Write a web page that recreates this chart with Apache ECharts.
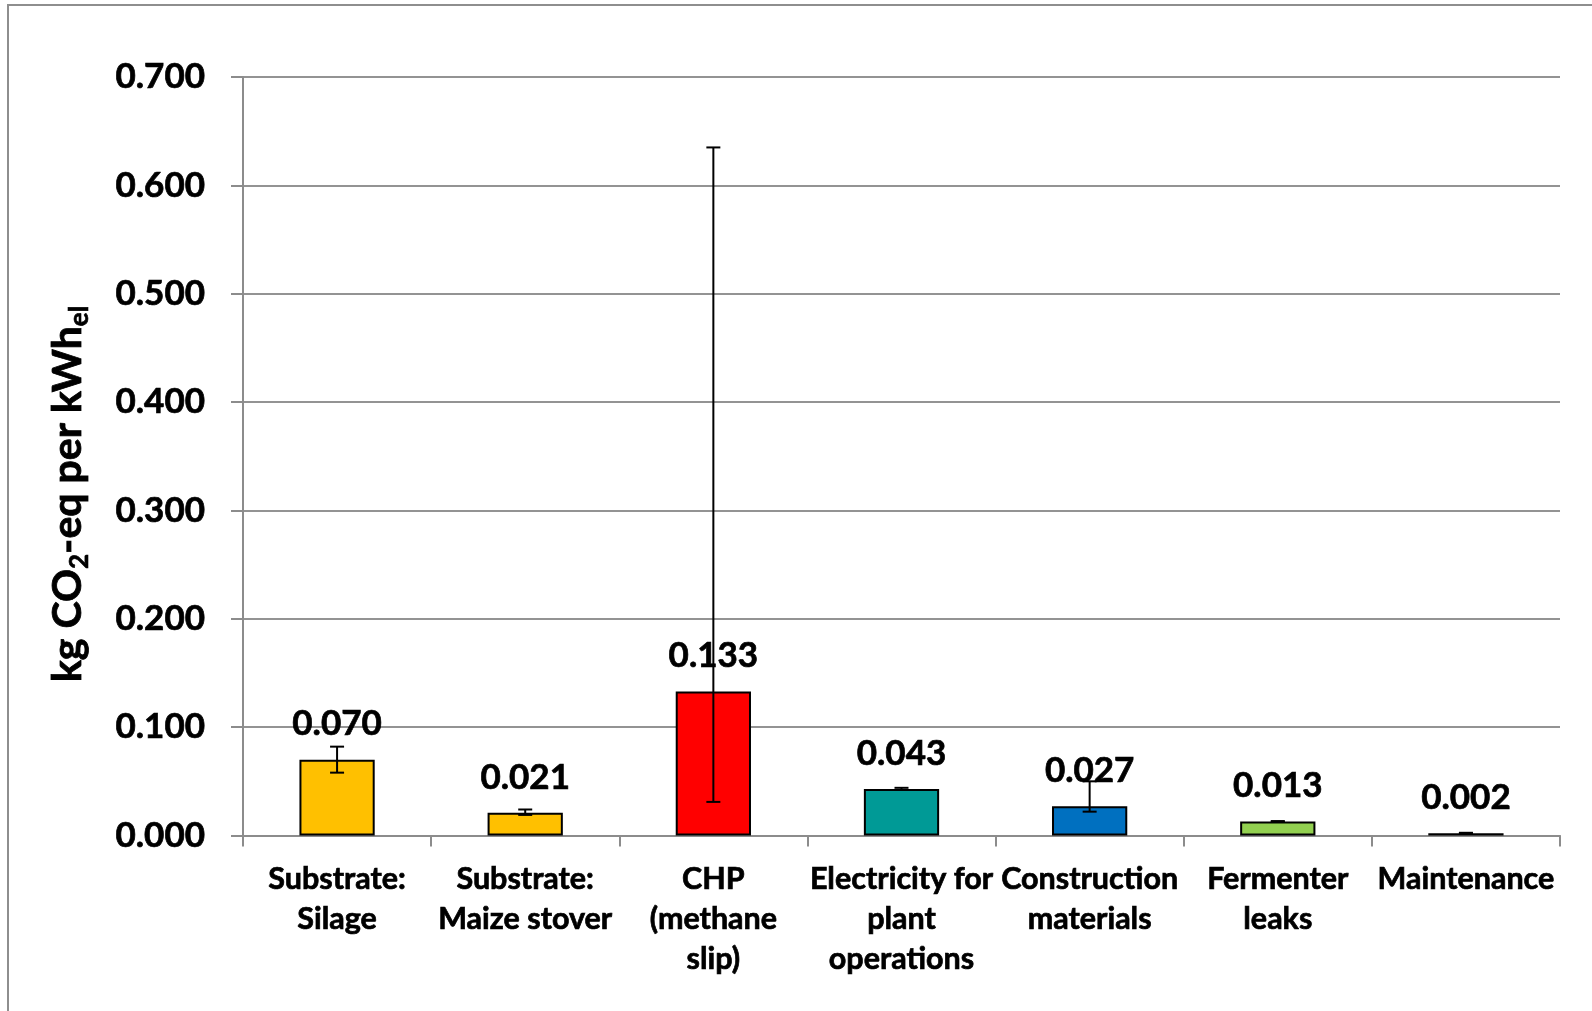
<!DOCTYPE html>
<html>
<head>
<meta charset="utf-8">
<script src="https://cdn.jsdelivr.net/npm/echarts@6/dist/echarts.min.js"></script>
<style>
html,body{margin:0;padding:0;background:#fff;}
#chart{width:1592px;height:1011px;}
</style>
</head>
<body>
<div id="chart"></div>
<script>
const categories = [
  "Substrate:\nSilage",
  "Substrate:\nMaize stover",
  "CHP\n(methane\nslip)",
  "Electricity for\nplant\noperations",
  "Construction\nmaterials",
  "Fermenter\nleaks",
  "Maintenance"
];
const values = [0.070, 0.021, 0.133, 0.043, 0.027, 0.013, 0.002];
const errLow  = [0.058, 0.019, 0.031, 0.042, 0.022, 0.0128, 0.0020];
const errHigh = [0.082, 0.024, 0.635, 0.044, 0.050, 0.0133, 0.0025];
const yTicks = [0, 0.1, 0.2, 0.3, 0.4, 0.5, 0.6, 0.7];

const barColors = ["#FFC000", "#FFC000", "#FF0000", "#009A96", "#0070C0", "#92D050", "#7F7F7F"];
const FONT = "Lato";
const thick = {textBorderColor: '#000', textBorderWidth: 0.7};

const chart = echarts.init(document.getElementById('chart'), null, {renderer: 'canvas'});

const option = {
  backgroundColor: '#ffffff',
  animation: false,
  grid: {left: 243, right: 32, top: 77, bottom: 175.5, containLabel: false},
  xAxis: {
    type: 'category',
    data: categories,
    axisLine: {lineStyle: {color: '#8c8c8c', width: 2}},
    axisTick: {show: true, inside: false, length: 11, lineStyle: {color: '#8c8c8c', width: 2}},
    axisLabel: Object.assign({
      interval: 0, margin: 24, color: '#000', fontFamily: FONT, fontWeight: 'bold',
      fontSize: 30.5, lineHeight: 40
    }, thick),
    splitLine: {show: false}
  },
  yAxis: {
    type: 'value',
    min: yTicks[0], max: yTicks[yTicks.length - 1], interval: 0.1,
    axisLine: {show: true, lineStyle: {color: '#8c8c8c', width: 2}},
    axisTick: {show: true, inside: false, length: 12, lineStyle: {color: '#8c8c8c', width: 2}},
    axisLabel: Object.assign({
      margin: 38, color: '#000', fontFamily: FONT, fontWeight: 'bold', fontSize: 35,
      formatter: v => v.toFixed(3)
    }, thick),
    splitLine: {show: true, lineStyle: {color: '#939393', width: 2}}
  },
  graphic: [
    {
      type: 'rect', silent: true, z: -1,
      shape: {x: 8, y: 5, width: 1700, height: 1100},
      style: {fill: 'none', stroke: '#8e8e8e', lineWidth: 2}
    },
    {
      type: 'text', x: 68, y: 494, rotation: Math.PI / 2,
      style: {
        text: '{m|kg CO}{s|2}{m|-eq per kWh}{s|el}',
        align: 'center', verticalAlign: 'middle',
        rich: {
          m: {fontFamily: FONT, fontWeight: 'bold', fontSize: 41, fill: '#000', lineHeight: 50, stroke: '#000', lineWidth: 0.8},
          s: {fontFamily: FONT, fontWeight: 'bold', fontSize: 26, fill: '#000', lineHeight: 50, verticalAlign: 'bottom', stroke: '#000', lineWidth: 0.6}
        }
      }
    }
  ],
  series: [
    {
      type: 'bar',
      data: values.map((v, i) => ({value: v, itemStyle: {color: barColors[i]}})),
      barWidth: '40%',
      itemStyle: {borderColor: '#000', borderWidth: 2},
      label: Object.assign({
        show: true, position: 'top', distance: 18,
        color: '#000', fontFamily: FONT, fontWeight: 'bold', fontSize: 35,
        formatter: p => p.value.toFixed(3)
      }, thick),
      z: 2
    },
    {
      type: 'custom',
      z: 5,
      data: categories.map((c, i) => [i, errLow[i], errHigh[i]]),
      renderItem: function (params, api) {
        const x = api.value(0);
        const lo = api.coord([x, api.value(1)]);
        const hi = api.coord([x, api.value(2)]);
        const hw = 7;
        const st = {stroke: '#000', lineWidth: 2};
        return {
          type: 'group',
          children: [
            {type: 'line', shape: {x1: lo[0], y1: lo[1], x2: hi[0], y2: hi[1]}, style: st},
            {type: 'line', shape: {x1: lo[0] - hw, y1: lo[1], x2: lo[0] + hw, y2: lo[1]}, style: st},
            {type: 'line', shape: {x1: hi[0] - hw, y1: hi[1], x2: hi[0] + hw, y2: hi[1]}, style: st}
          ]
        };
      }
    }
  ]
};
chart.setOption(option);
</script>
</body>
</html>
